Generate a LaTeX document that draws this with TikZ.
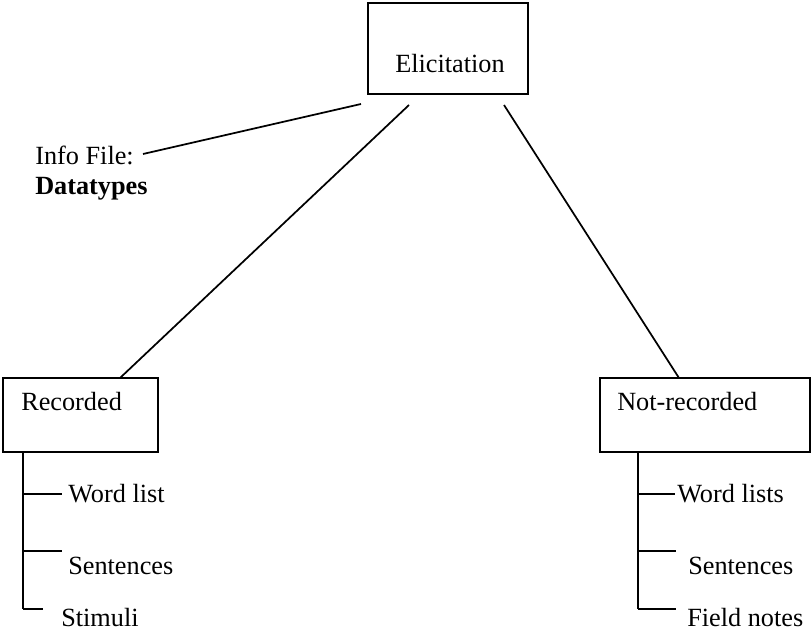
\documentclass[tikz,border=0pt]{standalone}
\usepackage{fontspec}
\setmainfont{Liberation Serif}
\begin{document}
\begin{tikzpicture}[x=0.75pt,y=-0.75pt,
  box/.style={draw, line width=1.4pt, inner sep=0pt},
  lbl/.style={font=\fontsize{19.7}{24}\selectfont, inner sep=0pt, anchor=base west},
  link/.style={line width=1.3pt},
  tree/.style={line width=1.4pt}]
\useasboundingbox (0,0) rectangle (811,631);

% boxes
\node[box, minimum width=120pt, minimum height=68.25pt] (elic) at (448,48.5) {};
\node[box, minimum width=116.25pt, minimum height=55.5pt] (rec) at (80.5,415) {};
\node[box, minimum width=157.5pt, minimum height=55.5pt] (nrec) at (705,415) {};

% box titles
\node[lbl] (telic) at (395,73) {Elicitation};
\node[lbl] (trec) at (21,410) {Recorded};
\node[lbl] (tnrec) at (617,410) {Not-recorded};

% side note
\node[lbl] (info) at (35,165) {Info File:};
\node[lbl] (dtype) at (35,195) {\textbf{Datatypes}};

% leaves of the left branch
\node[lbl] (lw) at (68,502) {Word list};
\node[lbl] (ls) at (68,574) {Sentences};
\node[lbl] (lt) at (61,626) {Stimuli};

% leaves of the right branch
\node[lbl] (rw) at (677,502) {Word lists};
\node[lbl] (rs) at (688,574) {Sentences};
\node[lbl] (rf) at (687,626) {Field notes};

% connector end points
\coordinate (infoA) at (143,154);
\coordinate (infoB) at (361,104);
\coordinate (eL) at (409,105);
\coordinate (eR) at (504,105);
\coordinate (recIn) at (120,378);
\coordinate (nrecIn) at (679,378);

% links from the top box
\draw[link] (infoA) -- (infoB);
\draw[link] (eL) -- (recIn);
\draw[link] (eR) -- (nrecIn);

% left tree
\coordinate (lk) at (23,609);
\coordinate (lk1) at (62,494);
\coordinate (lk2) at (62,551);
\coordinate (lk3) at (43,609);
\draw[tree] (rec.south -| lk) -- (lk);
\draw[tree] (lk |- lk1) -- (lk1);
\draw[tree] (lk |- lk2) -- (lk2);
\draw[tree] (lk) -- (lk3);

% right tree
\coordinate (rk) at (638,609);
\coordinate (rk1) at (675,494);
\coordinate (rk2) at (676,551);
\coordinate (rk3) at (676,609);
\draw[tree] (nrec.south -| rk) -- (rk);
\draw[tree] (rk |- rk1) -- (rk1);
\draw[tree] (rk |- rk2) -- (rk2);
\draw[tree] (rk) -- (rk3);
\end{tikzpicture}
\end{document}
